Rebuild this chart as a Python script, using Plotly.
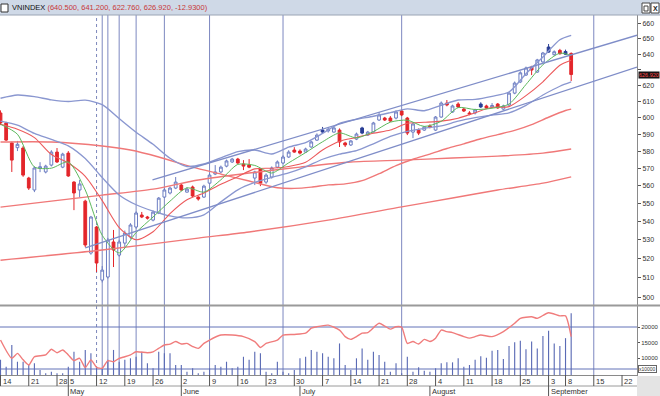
import math
import plotly.graph_objects as go

# ---------------- data ----------------
title_name = "VNINDEX"
title_values = "(640.500, 641.200, 622.760, 626.920, -12.9300)"

opens = [602.9, 596.8, 584.8, 582.0, 581.8, 564.3, 557.5, 570.0, 567.8, 571.8,
         579.4, 570.6, 578.8, 562.0, 557.5, 551.2, 522.9, 536.9, 508.7, 510.3,
         528.8, 521.8, 528.2, 531.5, 536.9, 543.5, 542.4, 540.7, 544.6, 553.5,
         555.8, 558.6, 560.3, 556.3, 559.2, 553.5, 553.5, 561.4, 566.6, 567.8,
         571.2, 573.6, 575.3, 572.4, 571.8, 564.3, 569.5, 562.0, 564.9, 570.6,
         573.0, 576.5, 580.6, 580.0, 579.4, 582.4, 586.5, 591.3, 592.0, 591.3,
         592.5, 584.8, 583.6, 587.1, 590.7, 589.5, 591.3, 598.6, 599.8, 599.8,
         599.8, 604.1, 599.8, 591.3, 592.5, 592.5, 595.0, 592.5, 600.4, 609.0,
         603.5, 608.4, 605.3, 602.9, 602.9, 606.6, 607.2, 606.6, 608.4, 605.3,
         607.8, 615.2, 622.2, 626.6, 631.7, 628.5, 635.0, 641.4, 639.7, 642.5,
         640.0, 640.5]
highs = [604.5, 597.5, 585.5, 586.0, 583.0, 565.0, 571.0, 573.5, 572.0, 580.5,
         581.8, 579.0, 580.0, 562.5, 563.2, 552.0, 543.0, 537.5, 516.0, 531.0,
         535.3, 530.0, 535.0, 539.0, 545.5, 545.2, 543.0, 546.0, 553.5, 558.5,
         559.5, 564.9, 561.0, 559.0, 560.0, 554.0, 560.5, 567.0, 571.8, 571.5,
         575.0, 576.0, 576.0, 574.7, 575.3, 568.5, 570.0, 567.0, 571.0, 574.5,
         577.5, 580.5, 582.3, 581.0, 582.0, 586.0, 590.5, 594.4, 594.0, 594.5,
         593.5, 585.5, 586.5, 591.0, 594.5, 592.0, 597.5, 603.5, 600.5, 601.0,
         604.5, 605.0, 600.5, 597.0, 593.5, 595.0, 596.0, 601.0, 610.0, 610.9,
         608.0, 609.5, 606.0, 604.0, 605.5, 609.5, 608.0, 609.0, 609.0, 608.0,
         616.0, 622.5, 629.0, 632.0, 632.5, 637.0, 641.5, 646.7, 642.5, 643.5,
         643.0, 641.2]
lows = [595.5, 586.0, 567.8, 580.0, 565.0, 557.5, 556.3, 567.7, 567.0, 571.0,
        573.0, 570.0, 565.0, 546.2, 553.5, 526.0, 522.0, 512.9, 507.5, 509.5,
        515.5, 521.0, 526.0, 530.5, 536.0, 541.8, 541.0, 540.0, 544.0, 553.0,
        555.0, 558.0, 557.0, 556.0, 553.5, 551.5, 553.0, 561.0, 566.0, 567.0,
        570.5, 573.0, 572.5, 568.9, 570.0, 560.3, 559.7, 561.0, 564.0, 570.0,
        572.5, 576.0, 579.0, 578.0, 579.0, 582.0, 586.0, 590.7, 591.0, 591.0,
        582.4, 582.4, 583.0, 586.5, 590.0, 589.0, 591.0, 598.0, 598.0, 597.5,
        599.0, 601.0, 589.5, 587.7, 589.5, 592.0, 593.5, 592.0, 600.0, 607.0,
        603.0, 606.0, 603.5, 601.5, 602.0, 606.0, 605.5, 606.0, 605.5, 604.8,
        607.0, 614.5, 621.5, 626.0, 626.6, 628.0, 634.5, 641.0, 639.0, 639.8,
        639.5, 622.76]
closes = [596.8, 586.5, 574.7, 584.0, 566.0, 558.6, 570.1, 570.8, 571.2, 579.4,
          573.6, 578.2, 565.5, 555.8, 560.9, 527.2, 542.4, 517.6, 513.9, 529.8,
          524.5, 528.8, 533.6, 538.0, 544.6, 542.4, 541.8, 545.1, 552.9, 557.5,
          558.6, 562.0, 557.5, 558.0, 554.1, 552.4, 559.7, 566.0, 567.8, 570.6,
          574.2, 575.3, 573.0, 571.2, 570.6, 567.8, 561.4, 566.0, 570.1, 573.6,
          576.5, 579.4, 579.4, 578.8, 581.2, 585.4, 589.5, 592.5, 593.0, 593.8,
          585.4, 583.6, 586.0, 590.1, 593.8, 591.3, 596.8, 601.7, 598.6, 598.0,
          603.5, 601.7, 590.7, 596.2, 590.7, 594.4, 594.4, 600.4, 609.0, 607.8,
          607.2, 606.6, 604.1, 602.3, 604.7, 608.4, 606.0, 607.5, 606.0, 607.2,
          615.2, 621.5, 628.0, 631.1, 629.8, 636.3, 640.8, 644.7, 641.6, 640.3,
          641.8, 626.92]
blue_days = [57, 64, 85, 97, 100]

volume = [9400, 7200, 14200, 8800, 8800, 7750, 8300, 6100, 5100, 5600,
          5100, 5100, 7200, 12000, 8800, 12600, 11500, 7200, 6700, 9400,
          12600, 8800, 9400, 9900, 10400, 12000, 8300, 6700, 12000, 11500,
          11500, 7750, 7750, 5600, 6700, 5100, 5600, 6700, 7750, 7200,
          8800, 6700, 7200, 10400, 9400, 12000, 11500, 5600, 5100, 8800,
          5600, 5100, 6100, 9900, 10400, 12600, 12000, 11500, 10400, 9900,
          14700, 7750, 6100, 9900, 13100, 9400, 12000, 11000, 8800, 5600,
          8300, 5100, 10400, 5600, 7000, 5900, 5600, 6700, 8300, 8600,
          8600, 9900, 7200, 7750, 9400, 10600, 10100, 12300, 12600, 9700,
          13900, 15100, 15600, 12800, 15300, 13100, 17100, 18800, 14700, 13900,
          16400, 24400]

# indicator lines, read at sample days
sample_days = [0, 3, 6, 9, 12, 15, 18, 21, 24, 27, 30, 33, 36, 39, 42, 45, 48, 51,
               54, 57, 60, 63, 66, 69, 72, 75, 78, 81, 84, 87, 90, 93, 96, 99, 101]
ma5 = [596.0, 590.0, 570.7, 570.0, 573.6, 557.5, 532.4, 522.9, 533.9, 542.4, 551.2, 558.7,
       556.3, 563.3, 572.2, 571.6, 567.2, 573.1, 579.1, 585.5, 590.8, 587.8, 591.6, 597.3,
       598.5, 594.7, 597.8, 606.2, 605.0, 605.8, 608.4, 620.6, 633.2, 640.7, 639.1]
ma10 = [596.0, 593.0, 588.0, 578.0, 573.0, 565.3, 551.5, 536.6, 530.0, 534.3, 544.3, 552.0,
        555.8, 560.7, 565.1, 569.6, 570.0, 571.0, 573.4, 580.6, 585.8, 588.1, 590.6, 592.5,
        596.6, 597.2, 597.9, 599.7, 603.1, 606.4, 606.8, 613.6, 622.3, 632.9, 636.1]
ma20 = [597.9, 595.5, 590.5, 586.9, 583.1, 575.6, 564.6, 554.7, 549.2, 545.7, 543.0, 541.9,
        543.6, 550.8, 557.6, 561.8, 564.7, 567.3, 570.8, 575.2, 578.2, 580.2, 584.3, 588.7,
        591.8, 593.6, 595.0, 597.9, 600.0, 601.6, 603.0, 607.6, 614.0, 619.5, 622.2]
bb_upper = [612.0, 614.0, 613.0, 611.0, 610.0, 610.8, 608.0, 599.5, 591.2, 584.0, 575.8, 571.0,
            572.4, 576.0, 579.7, 580.6, 578.3, 582.3, 585.0, 590.5, 596.6, 599.0, 600.9, 603.1,
            605.4, 604.3, 607.6, 610.9, 611.3, 613.2, 615.9, 627.4, 638.2, 649.5, 652.4]

ma50_days = [0, 9, 18, 23, 28, 34, 39, 44, 49, 52, 55, 58, 61, 64, 67, 70, 73, 76, 79, 82,
             85, 88, 91, 94, 97, 100, 101]
ma50 = [585.4, 585.4, 583.0, 580.6, 576.5, 570.6, 566.6, 562.6, 558.8, 558.4, 559.1, 560.4,
        561.0, 562.8, 566.8, 571.5, 575.2, 578.2, 581.5, 584.3, 587.3, 589.8, 592.3, 595.8,
        600.3, 604.4, 605.3]
ma100_days = [0, 9, 18, 27, 35, 44, 53, 62, 71, 80, 88, 96, 101]
ma100 = [547.9, 551.2, 554.6, 558.0, 563.2, 567.2, 570.6, 573.6, 574.7, 575.9, 577.0, 578.8, 581.2]
ma200_days = [0, 18, 35, 44, 58, 71, 80, 88, 96, 101]
ma200 = [519.1, 524.5, 530.9, 534.2, 540.7, 548.0, 553.0, 557.5, 561.4, 565.0]

# straight trend channel (start day/value, end day/value)
chan_upper_days = [26.9, 112.65]
chan_upper_vals = [563.2, 652.5]
chan_lower_days = [15.0, 112.65]
chan_lower_vals = [525.6, 631.7]

# lower-panel red indicator
osc_days = [0, 2, 3, 4, 5, 6, 8, 9, 10, 11, 12, 13, 14, 15, 16, 17, 18, 19, 20, 21,
            22, 23, 24, 26, 27, 28, 29, 30, 31, 32, 33, 34, 35, 36, 37, 39, 41, 43, 45, 46,
            47, 49, 50, 52, 54, 55, 56, 58, 60, 61, 62, 63, 64, 65, 67, 68, 69, 70, 71, 72,
            73, 74, 75, 76, 77, 78, 79, 80, 82, 83, 84, 85, 87, 89, 91, 92, 94, 95, 97, 99,
            100, 101]
osc = [15800, 9900, 11500, 9400, 7750, 10400, 11000, 12800, 11700, 12600,
       11000, 9150, 9900, 6900, 9400, 7000, 6700, 9150, 8800, 9900,
       10400, 11000, 12000, 11700, 12000, 13100, 14200, 14500, 15300, 14500,
       14700, 13700, 13100, 14700, 15800, 17400, 17400, 16900, 15300, 13400,
       14700, 15800, 17400, 17600, 18000, 19600, 20100, 20600, 19000, 16900,
       16000, 16900, 18000, 18200, 21200, 20300, 19300, 20100, 19900, 14700,
       15300, 14500, 16000, 15300, 16400, 19000, 18500, 18200, 16900, 16400,
       16900, 17400, 16900, 18500, 21200, 22800, 23300, 22800, 24600, 23600,
       23600, 16900]
osc_levels = [20000, 6450]

cycle_start = 17
cycle_days = [18, 19, 21, 24, 29, 37, 50, 71, 105]

week_tick_days = [0, 5, 10, 12, 17, 22, 27, 32, 37, 42, 47, 52, 57, 62, 67, 72, 77, 82,
                  87, 92, 97, 100, 105, 110]
week_tick_labels = ["14", "21", "28", "5", "12", "19", "26", "2", "9", "16", "23", "30",
                    "7", "14", "21", "28", "4", "11", "18", "25", "3", "8", "15", "22"]
month_days = [12, 32, 53, 76, 97]
month_labels = ["May", "June", "July", "August", "September"]

price_ticks = [500, 510, 520, 530, 540, 550, 560, 570, 580, 590, 600, 610, 620, 630, 640, 650, 660]
vol_ticks = [10000, 15000, 20000]

# ---------------- figure ----------------
FONT = "Liberation Sans Narrow, Arial Narrow, Liberation Sans, Arial, sans-serif"
W, H = 660, 396
ML, MR, MT, MB = 0, 23, 15, 21
PW = W - ML - MR          # 637
PH = H - MT - MB          # 360


def px_x(p):
    return (p - ML) / PW


def px_y(p):
    return (H - MB - p) / PH


fig = go.Figure()

RED_MA = "#f07878"
BLUE_L = "#8a97d0"

for xs, ys, col, w in [
    (ma200_days, ma200, RED_MA, 1.4),
    (ma100_days, ma100, RED_MA, 1.4),
    (ma50_days, ma50, RED_MA, 1.4),
    (sample_days, bb_upper, BLUE_L, 1.4),
    (sample_days, ma20, BLUE_L, 1.3),
    (sample_days, ma10, "#ec5a5c", 1.1),
    (sample_days, ma5, "#5cb85c", 1.0),
]:
    fig.add_trace(go.Scatter(x=xs, y=ys, mode="lines", xaxis="x", yaxis="y",
                             line=dict(color=col, width=w, shape="spline", smoothing=0.7),
                             hoverinfo="skip"))

for xs, ys in [(chan_upper_days, chan_upper_vals), (chan_lower_days, chan_lower_vals)]:
    fig.add_trace(go.Scatter(x=xs, y=ys, mode="lines", xaxis="x", yaxis="y",
                             line=dict(color="#7f8dc8", width=1.3), hoverinfo="skip"))

normal = [i for i in range(len(closes)) if i not in blue_days]
fig.add_trace(go.Candlestick(
    x=normal,
    open=[opens[i] for i in normal], high=[highs[i] for i in normal],
    low=[lows[i] for i in normal], close=[closes[i] for i in normal],
    increasing=dict(line=dict(color="#6c7dc2", width=1), fillcolor="white"),
    decreasing=dict(line=dict(color="#e3262b", width=1), fillcolor="#e3262b"),
    whiskerwidth=0, xaxis="x", yaxis="y", hoverinfo="skip"))
fig.add_trace(go.Candlestick(
    x=blue_days,
    open=[opens[i] for i in blue_days], high=[highs[i] for i in blue_days],
    low=[lows[i] for i in blue_days], close=[closes[i] for i in blue_days],
    increasing=dict(line=dict(color="#2a3f96", width=1), fillcolor="#2a3f96"),
    decreasing=dict(line=dict(color="#2a3f96", width=1), fillcolor="#2a3f96"),
    whiskerwidth=0, xaxis="x", yaxis="y", hoverinfo="skip"))

# lower panel
fig.add_trace(go.Bar(x=list(range(len(volume))), y=volume, width=0.2, xaxis="x", yaxis="y2",
                     marker=dict(color="#5b6bb5", line=dict(width=0)), hoverinfo="skip"))
fig.add_trace(go.Scatter(x=osc_days, y=osc, mode="lines", xaxis="x", yaxis="y2",
                         line=dict(color="#f07c7c", width=1.4, shape="spline", smoothing=0.6),
                         hoverinfo="skip"))

shapes = []
shapes.append(dict(type="line", xref="x", yref="paper", x0=cycle_start, x1=cycle_start,
                   y0=0, y1=1, line=dict(color="#7d88bb", width=1, dash="dot"), layer="below"))
for d in cycle_days:
    shapes.append(dict(type="line", xref="x", yref="paper", x0=d, x1=d, y0=0, y1=1,
                       line=dict(color="#7d88c0", width=1), layer="below"))
for lv in osc_levels:
    shapes.append(dict(type="line", xref="paper", yref="y2", x0=0, x1=1, y0=lv, y1=lv,
                       line=dict(color="#6272b8", width=1), layer="below"))
# title bar
shapes.append(dict(type="rect", xref="paper", yref="paper", x0=0, x1=px_x(W), y0=1,
                   y1=px_y(0), fillcolor="#cfd9e7", line=dict(width=0), layer="below"))
shapes.append(dict(type="line", xref="paper", yref="paper", x0=0, x1=px_x(W), y0=1, y1=1,
                   line=dict(color="#9aa4b4", width=1)))
shapes.append(dict(type="rect", xref="paper", yref="paper", x0=px_x(1), x1=px_x(8),
                   y0=px_y(12), y1=px_y(4), fillcolor="white", line=dict(color="#333", width=1)))
shapes.append(dict(type="rect", xref="paper", yref="paper", x0=px_x(642), x1=px_x(650),
                   y0=px_y(13), y1=px_y(3), fillcolor="white", line=dict(color="#444", width=1)))
shapes.append(dict(type="rect", xref="paper", yref="paper", x0=px_x(644), x1=px_x(648),
                   y0=px_y(11), y1=px_y(6), fillcolor="white", line=dict(color="#444", width=1)))
shapes.append(dict(type="rect", xref="paper", yref="paper", x0=px_x(651), x1=px_x(659),
                   y0=px_y(13), y1=px_y(3), fillcolor="white", line=dict(color="#444", width=1)))
# panel separator
shapes.append(dict(type="line", xref="paper", yref="paper", x0=0, x1=px_x(W), y0=px_y(305.5),
                   y1=px_y(305.5), line=dict(color="#9a9a9a", width=2)))
# date rows
shapes.append(dict(type="line", xref="paper", yref="paper", x0=0, x1=1, y0=px_y(386),
                   y1=px_y(386), line=dict(color="#9a9a9a", width=1)))
shapes.append(dict(type="rect", xref="paper", yref="paper", x0=1, x1=px_x(W), y0=px_y(H),
                   y1=px_y(376), fillcolor="#e4e4e4", line=dict(width=0)))
for d in week_tick_days:
    shapes.append(dict(type="line", xref="x", yref="paper", x0=d, x1=d, y0=px_y(375),
                       y1=px_y(386), line=dict(color="#555", width=1)))
for d in month_days:
    shapes.append(dict(type="line", xref="x", yref="paper", x0=d, x1=d, y0=px_y(386),
                       y1=px_y(H), line=dict(color="#555", width=1)))

annotations = []
annotations.append(dict(xref="paper", yref="paper", x=px_x(10), y=px_y(7.5), xanchor="left",
                        yanchor="middle", showarrow=False,
                        text=title_name + " <span style='color:#c83838'>" + title_values + "</span>",
                        font=dict(family=FONT, size=7.5, color="#111")))
annotations.append(dict(xref="paper", yref="paper", x=px_x(655), y=px_y(8), xanchor="center",
                        yanchor="middle", showarrow=False, text="<b>X</b>",
                        font=dict(family="Liberation Sans, Arial", size=7, color="#222")))
for d, lab in zip(week_tick_days, week_tick_labels):
    annotations.append(dict(xref="x", yref="paper", x=d, y=px_y(381), xanchor="left",
                            yanchor="middle", xshift=0, showarrow=False, text=lab,
                            font=dict(family=FONT, size=7.5, color="#333")))
for d, lab in zip(month_days, month_labels):
    annotations.append(dict(xref="x", yref="paper", x=d, y=px_y(391.5), xanchor="left",
                            yanchor="middle", xshift=0, showarrow=False, text=lab,
                            font=dict(family=FONT, size=7.5, color="#333")))
annotations.append(dict(xref="paper", yref="y", x=1 + 1 / PW, y=math.log10(closes[-1]),
                        xanchor="left", yanchor="middle", showarrow=False,
                        text=f"{closes[-1]:.3f}", bgcolor="#151515", borderpad=0,
                        font=dict(family=FONT, size=5.5, color="#ff4a4a")))
annotations.append(dict(xref="paper", yref="paper", x=1 + 1 / PW, y=px_y(369), xanchor="left",
                        yanchor="middle", showarrow=False, text="x10000", bgcolor="white",
                        bordercolor="#666", borderwidth=1, borderpad=0,
                        font=dict(family=FONT, size=5, color="#333")))

price_text = ["" if v == 630 else str(v) for v in price_ticks]

fig.update_layout(
    width=W, height=H, margin=dict(l=ML, r=MR, t=MT, b=MB, autoexpand=False),
    paper_bgcolor="white", plot_bgcolor="white", showlegend=False, hovermode=False,
    xaxis=dict(range=[-0.09, 112.65], showgrid=False, zeroline=False, showticklabels=False,
               ticks="", anchor="y2", showline=True, linecolor="#8a8a8a", linewidth=1,
               rangeslider=dict(visible=False), fixedrange=True, automargin=False),
    yaxis=dict(type="log", domain=[px_y(305), 1], range=[2.69547, 2.82350], side="right",
               tickvals=price_ticks, ticktext=price_text, ticks="outside",
               ticklen=3, tickcolor="#555", tickfont=dict(family=FONT, size=7, color="#333"),
               showgrid=False, zeroline=False, showline=True, linecolor="#8a8a8a",
               anchor="x", automargin=False, fixedrange=True),
    yaxis2=dict(domain=[0, px_y(306)], range=[4515, 26775], side="right", tickvals=vol_ticks,
                ticktext=[str(v) for v in vol_ticks], ticks="outside", ticklen=2,
                tickcolor="#555", tickfont=dict(family=FONT, size=6, color="#333"),
                showgrid=False, zeroline=False, showline=True, linecolor="#8a8a8a",
                anchor="x", automargin=False, fixedrange=True),
    shapes=shapes, annotations=annotations,
)

fig.write_html("out.html", config={"displayModeBar": False, "staticPlot": True},
               post_script="document.body.style.margin='0px';document.body.style.overflow='hidden';")
